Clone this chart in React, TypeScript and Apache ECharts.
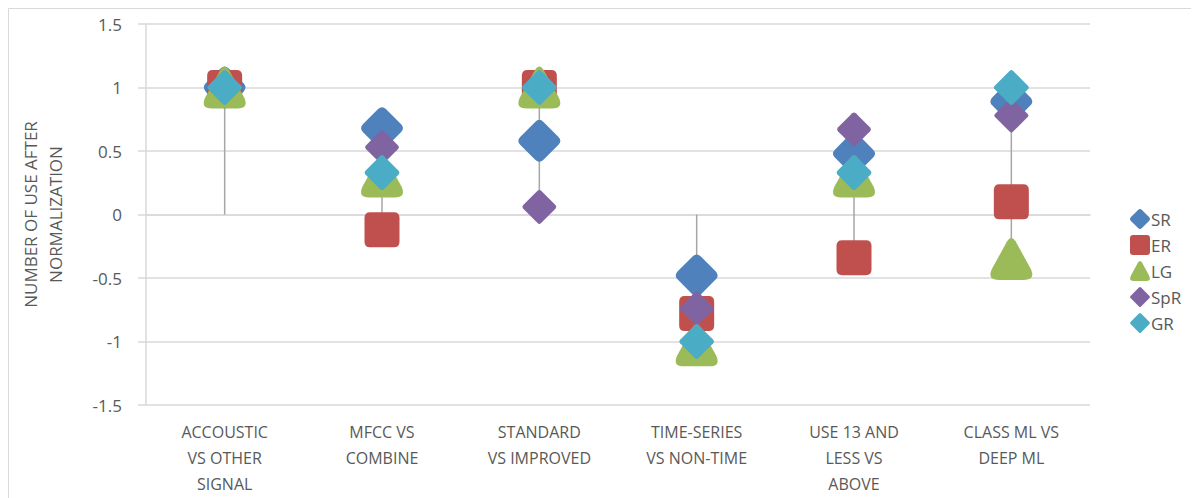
import React, { useEffect, useRef } from "react";
import * as echarts from "echarts";

const categories = [
  "ACCOUSTIC\nVS OTHER\nSIGNAL",
  "MFCC VS\nCOMBINE",
  "STANDARD\nVS IMPROVED",
  "TIME-SERIES\nVS NON-TIME",
  "USE 13 AND\nLESS VS\nABOVE",
  "CLASS ML VS\nDEEP ML",
];
const SR = [1, 0.68, 0.58, -0.48, 0.48, 0.89];
const ER = [1, -0.12, 1, -0.78, -0.34, 0.1];
const LG = [1, 0.3, 1, -1.03, 0.3, -0.35];
const SpR = [1, 0.53, 0.06, -0.74, 0.67, 0.78];
const GR = [1, 0.33, 1, -1.0, 0.33, 1.0];
const yTicks = { min: -1.5, max: 1.5, interval: 0.5 };

const FONT = "Open Sans";
const TEXT = "#595959";
const GRID = "#d9d9d9";

const DIAMOND_R =
  "path://M41,9Q50,0 59,9L91,41Q100,50 91,59L59,91Q50,100 41,91L9,59Q0,50 9,41Z";
const DIAMOND_S =
  "path://M45,5Q50,0 55,5L95,45Q100,50 95,55L55,95Q50,100 45,95L5,55Q0,50 5,45Z";
const SQUARE_R =
  "path://M16,0L84,0Q100,0 100,16L100,84Q100,100 84,100L16,100Q0,100 0,84L0,16Q0,0 16,0Z";
const TRIANGLE_R =
  "path://M40,8Q50,-8 60,8L96,74Q108,100 80,100L20,100Q-8,100 4,74Z";

export default function App() {
  const ref = useRef<HTMLDivElement>(null);
  useEffect(() => {
    if (!ref.current) return;
    const chart = echarts.init(ref.current, undefined, { renderer: "svg" });
    const all = [SR, ER, LG, SpR, GR];
    const drops = categories.map((_, i) => {
      const vals = all.map((s) => s[i]);
      return [i, Math.min(0, ...vals), Math.max(0, ...vals)];
    });
    const mk = (name: string, data: number[], color: string, symbol: string, size: number) => ({
      name,
      type: "scatter",
      data,
      symbol,
      symbolSize: size,
      z: 3,
      itemStyle: { color, opacity: 1 },
      emphasis: { disabled: true },
    });
    chart.setOption({
      animation: false,
      textStyle: { fontFamily: FONT },
      grid: { left: 138, top: 16, right: 1191 - 1082, bottom: 490 - 397 },
      graphic: [
        {
          type: "rect",
          shape: { x: 0.5, y: 0.5, width: 1300, height: 700 },
          style: { fill: "none", stroke: GRID, lineWidth: 1 },
          silent: true,
        },
      ],
      legend: {
        orient: "vertical",
        left: 1117,
        top: 196,
        itemWidth: 20,
        itemHeight: 20,
        itemGap: 6,
        textStyle: { fontSize: 17, color: TEXT, fontFamily: FONT, padding: [0, 0, 0, -4] },
        data: ["SR", "ER", "LG", "SpR", "GR"],
      },
      xAxis: {
        type: "category",
        data: categories,
        boundaryGap: true,
        axisLine: { show: true, lineStyle: { color: GRID, width: 1.5 } },
        axisTick: { show: false },
        axisLabel: {
          interval: 0,
          color: TEXT,
          fontSize: 16,
          lineHeight: 26,
          margin: 14,
          fontFamily: FONT,
        },
        splitLine: { show: false },
      },
      yAxis: {
        type: "value",
        min: yTicks.min,
        max: yTicks.max,
        interval: yTicks.interval,
        name: "NUMBER OF USE AFTER\nNORMALIZATION",
        nameLocation: "middle",
        nameGap: 78,
        nameTextStyle: { color: TEXT, fontSize: 17, lineHeight: 25, fontFamily: FONT },
        axisLine: { show: true, lineStyle: { color: GRID, width: 1.5 } },
        axisTick: { show: true, inside: false, length: 8, lineStyle: { color: GRID, width: 1.5 } },
        axisLabel: { color: TEXT, fontSize: 17, margin: 24, fontFamily: FONT },
        splitLine: { show: true, lineStyle: { color: GRID, width: 1.5 } },
      },
      series: [
        {
          type: "custom",
          name: "drop",
          z: 1,
          silent: true,
          data: drops,
          renderItem: (params: any, api: any) => {
            const p1 = api.coord([api.value(0), api.value(1)]);
            const p2 = api.coord([api.value(0), api.value(2)]);
            return {
              type: "line",
              shape: { x1: p1[0], y1: p1[1], x2: p2[0], y2: p2[1] },
              style: { stroke: "#a6a6a6", lineWidth: 1.5 },
            };
          },
        },
        mk("SR", SR, "#4F81BD", DIAMOND_R, 42),
        mk("ER", ER, "#C0504D", SQUARE_R, 35),
        mk("LG", LG, "#9BBB59", TRIANGLE_R, 42),
        mk("SpR", SpR, "#8064A2", DIAMOND_S, 34),
        mk("GR", GR, "#4BACC6", DIAMOND_S, 35),
      ],
    });
    return () => chart.dispose();
  }, []);
  return <div ref={ref} style={{ width: 1191, height: 490 }} />;
}
